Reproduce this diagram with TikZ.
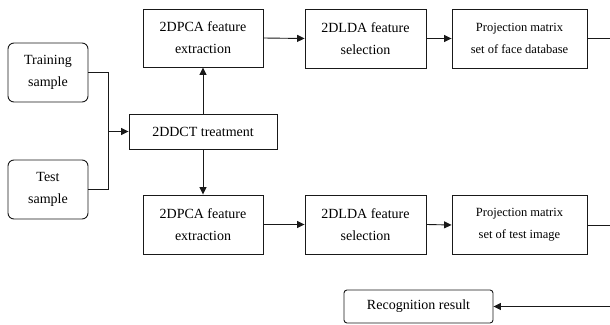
\documentclass[tikz,border=0pt]{standalone}
\usepackage{fontspec}
\setmainfont{Liberation Serif}
\usetikzlibrary{arrows.meta}
\begin{document}
\begin{tikzpicture}[x=1pt,y=-1pt,
  box/.style={draw=black!90,line width=0.9pt,fill=white,align=center,inner sep=0pt,
    font=\fontsize{14}{22}\selectfont},
  rbox/.style={box,rounded corners=6pt},
  sbox/.style={box,font=\fontsize{12.5}{22}\selectfont},
  line/.style={draw=black!90,line width=0.9pt},
  arr/.style={line,-{Triangle[length=7.5pt,width=7pt]}}]
\useasboundingbox (0,0) rectangle (610,324);
\node[rbox,minimum width=80pt,minimum height=59pt] (train) at (48,72.5) {Training\\sample};
\node[rbox,minimum width=80pt,minimum height=59pt] (test) at (48,189.5) {Test\\sample};
\node[box,minimum width=148pt,minimum height=35pt] (dct) at (203,131.5) {2DDCT treatment};
\node[box,minimum width=120pt,minimum height=58pt] (pca1) at (203,38) {2DPCA feature\\extraction};
\node[box,minimum width=120pt,minimum height=59pt] (pca2) at (203,224.5) {2DPCA feature\\extraction};
\node[box,minimum width=121pt,minimum height=59pt] (lda1) at (365.5,38.5) {2DLDA feature\\selection};
\node[box,minimum width=121pt,minimum height=59pt] (lda2) at (365.5,224.5) {2DLDA feature\\selection};
\node[sbox,minimum width=135pt,minimum height=59pt] (proj1) at (519.5,38.5) {Projection matrix\\set of face database};
\node[sbox,minimum width=135pt,minimum height=59pt] (proj2) at (519.5,225) {Projection matrix\\set of test image};
\node[box,rounded corners=3pt,minimum width=149pt,minimum height=33pt] (rec) at (418.5,306.5) {Recognition result};
\coordinate (j) at (108,131.5);
\coordinate (r1) at (610,38.5);
\coordinate (r2) at (610,225);
\coordinate (r3) at (610,306.5);
\draw[line] (train.east) -| (j);
\draw[line] (test.east) -| (j);
\draw[arr] (j) -- (dct.west);
\draw[arr] (dct.north) -- (pca1.south);
\draw[arr] (dct.south) -- (pca2.north);
\draw[arr] (pca1.east) -- (lda1.west);
\draw[arr] (lda1.east) -- (proj1.west);
\draw[arr] (pca2.east) -- (lda2.west);
\draw[arr] (lda2.east) -- (proj2.west);
\draw[line] (proj1.east) -- (r1);
\draw[line] (proj2.east) -- (r2);
\draw[arr] (r3) -- (rec.east);
\end{tikzpicture}
\end{document}
